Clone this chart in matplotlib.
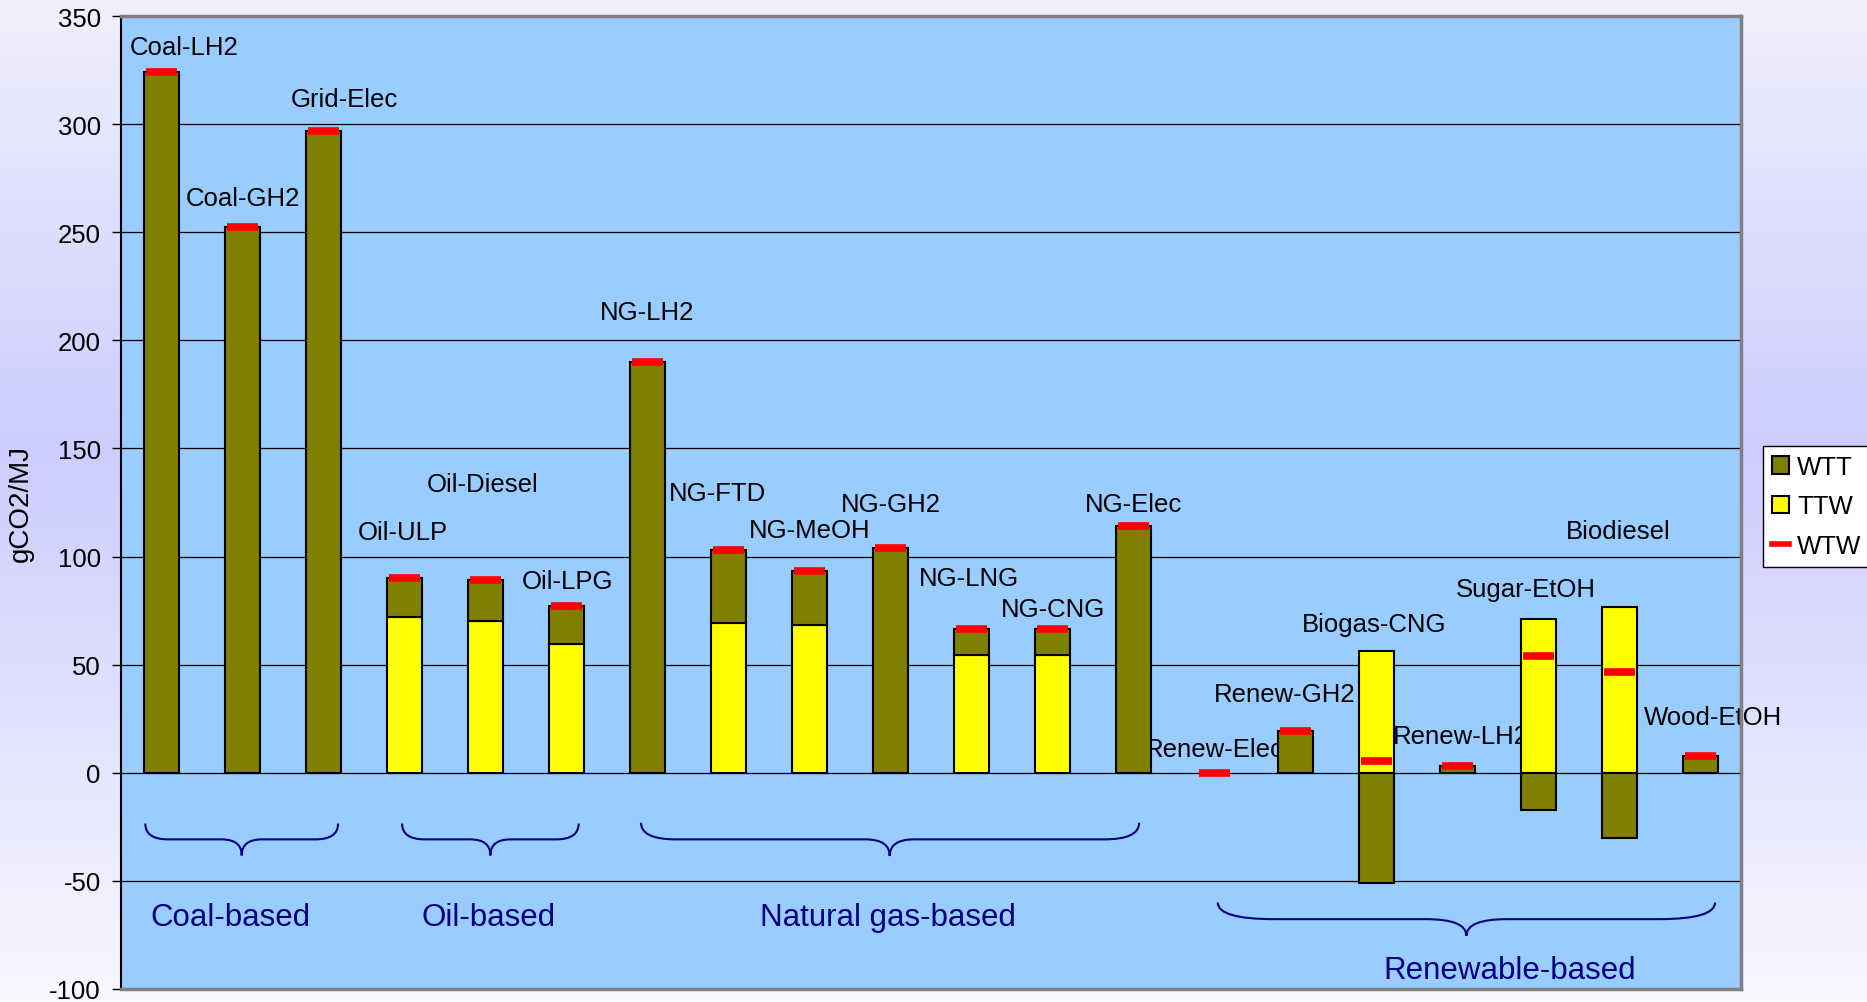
import matplotlib.pyplot as plt
import numpy as np
import matplotlib.patches as mpatches
from matplotlib.colors import LinearSegmentedColormap
from matplotlib.lines import Line2D
from matplotlib.path import Path

plt.rcParams['font.family'] = ['Liberation Sans', 'DejaVu Sans']
plt.rcParams['axes.unicode_minus'] = False

pathways = ['Coal-LH2', 'Coal-GH2', 'Grid-Elec', 'Oil-ULP', 'Oil-Diesel', 'Oil-LPG',
            'NG-LH2', 'NG-FTD', 'NG-MeOH', 'NG-GH2', 'NG-LNG', 'NG-CNG', 'NG-Elec',
            'Renew-Elec', 'Renew-GH2', 'Biogas-CNG', 'Renew-LH2', 'Sugar-EtOH',
            'Biodiesel', 'Wood-EtOH']
# gCO2/MJ, tank-to-wheel and well-to-tank
ttw = [0, 0, 0, 72, 70, 59.5, 0, 69.5, 68.5, 0, 54.5, 54.5, 0,
       0, 0, 56.5, 0, 71, 76.5, 0]
wtt = [324, 252.5, 297, 18, 19, 17.5, 190, 33.5, 25, 104, 12, 12, 114,
       0, 19.5, -51, 3, -17, -30, 7.7]
wtw = [t + w for t, w in zip(ttw, wtt)]

# name positions (category x, value y)
label_x = [0.28, 1.0, 2.26, 2.98, 3.97, 5.01, 6.0, 6.86, 8.0, 9.0, 9.97, 11.0, 12.0,
           13.0, 13.87, 14.97, 16.04, 16.84, 17.99, 19.16]
label_y = [335.7, 265.8, 311.5, 111.2, 133.7, 88.6, 213, 129.5, 112.3, 124.5, 90.3, 75.9, 124.4,
           11, 36.3, 68.8, 17, 84.8, 111.7, 25.9]

groups = ['Coal-based', 'Oil-based', 'Natural gas-based', 'Renewable-based']
group_x = [0.85, 4.04, 8.97, 16.65]
group_y = [-66.6, -66.6, -66.6, -91.4]

# braces: left, right, tip, top y, flat y, tip y, end curl, tip curl
braces = [(-0.2, 2.18, 0.99, -23.5, -30.8, -38.2, 0.28, 0.25),
          (2.97, 5.15, 4.06, -23.5, -30.8, -38.2, 0.28, 0.25),
          (5.92, 12.07, 8.99, -23.1, -30.8, -38.5, 0.43, 0.3),
          (13.04, 19.18, 16.11, -60, -67.7, -75.4, 0.7, 0.5)]


def brace(ax, x0, x1, xm, ytop, yflat, ytip, c, t):
    verts = [(x0, ytop), (x0, yflat), (x0 + c, yflat), (xm - t, yflat),
             (xm, yflat), (xm, ytip), (xm, yflat), (xm + t, yflat),
             (x1 - c, yflat), (x1, yflat), (x1, ytop)]
    codes = [Path.MOVETO, Path.CURVE3, Path.CURVE3, Path.LINETO,
             Path.CURVE3, Path.CURVE3, Path.CURVE3, Path.CURVE3,
             Path.LINETO, Path.CURVE3, Path.CURVE3]
    ax.add_patch(mpatches.PathPatch(Path(verts, codes), fill=False,
                                    edgecolor='#000080', lw=1.5, zorder=2))


fig = plt.figure(figsize=(18.67, 10.03), dpi=100)

# soft lavender backdrop
bg = fig.add_axes([0, 0, 1, 1], zorder=-1)
cmap = LinearSegmentedColormap.from_list('bg', [(0, '#f8f8fe'), (0.55, '#ccccff'), (1, '#f0f0fc')])
bg.imshow(np.linspace(0, 1, 256).reshape(-1, 1), aspect='auto', cmap=cmap,
          origin='lower', extent=[0, 1, 0, 1])
bg.axis('off')

ax = fig.add_axes([121 / 1867, 13 / 1003, 1620 / 1867, 973 / 1003])
ax.set_facecolor('#99ccff')

x = np.arange(len(pathways))
w = 0.42
ttw_idx = [i for i in x if ttw[i] != 0]
wtt_idx = [i for i in x if wtt[i] != 0]
ax.bar(ttw_idx, [ttw[i] for i in ttw_idx], width=w, color='yellow',
       edgecolor='black', lw=1.5, zorder=3)
ax.bar(wtt_idx, [wtt[i] for i in wtt_idx],
       bottom=[ttw[i] if wtt[i] > 0 else 0 for i in wtt_idx],
       width=w, color='#808000', edgecolor='black', lw=1.5, zorder=3)
ax.hlines(wtw, x - 0.195, x + 0.195, color='red', lw=5.5, zorder=4, capstyle='butt')

for name, lx, ly in zip(pathways, label_x, label_y):
    ax.text(lx, ly, name, ha='center', va='center', fontsize=18.5, zorder=2.5)

for name, gx, gy in zip(groups, group_x, group_y):
    ax.text(gx, gy, name, ha='center', va='center', fontsize=22.5, color='#000080')

for b in braces:
    brace(ax, *b)

ax.set_xlim(-0.5, 19.5)
ax.set_ylim(-100, 350)
ax.set_yticks(range(-100, 351, 50))
ax.set_xticks([])
ax.yaxis.grid(True, color='black', lw=0.9)
ax.set_axisbelow(True)
ax.tick_params(axis='y', direction='out', length=6.5, width=1, pad=8, labelsize=18.5)

ax.spines['left'].set_color('black')
ax.spines['left'].set_linewidth(1.5)
for s in ['top', 'right', 'bottom']:
    ax.spines[s].set_color('#808080')
    ax.spines[s].set_linewidth(2.5)

ax.set_ylabel('gCO2/MJ', fontsize=20)
ax.yaxis.set_label_coords(-0.054, 0.5)

handles = [mpatches.Patch(facecolor='#808000', edgecolor='black', lw=1.5, label='WTT'),
           mpatches.Patch(facecolor='yellow', edgecolor='black', lw=1.5, label='TTW'),
           Line2D([], [], color='red', lw=4, label='WTW')]
leg = fig.legend(handles=handles, loc='upper left', bbox_to_anchor=(1763 / 1867, 1 - 447 / 1003),
                 frameon=True, fancybox=False, edgecolor='black', fontsize=18.5,
                 handlelength=0.68, handleheight=0.68, handletextpad=0.3,
                 labelspacing=0.6, borderpad=0.35, borderaxespad=0)
leg.get_frame().set_linewidth(1)
leg.get_frame().set_alpha(None)

plt.savefig('out.png', dpi=100)
